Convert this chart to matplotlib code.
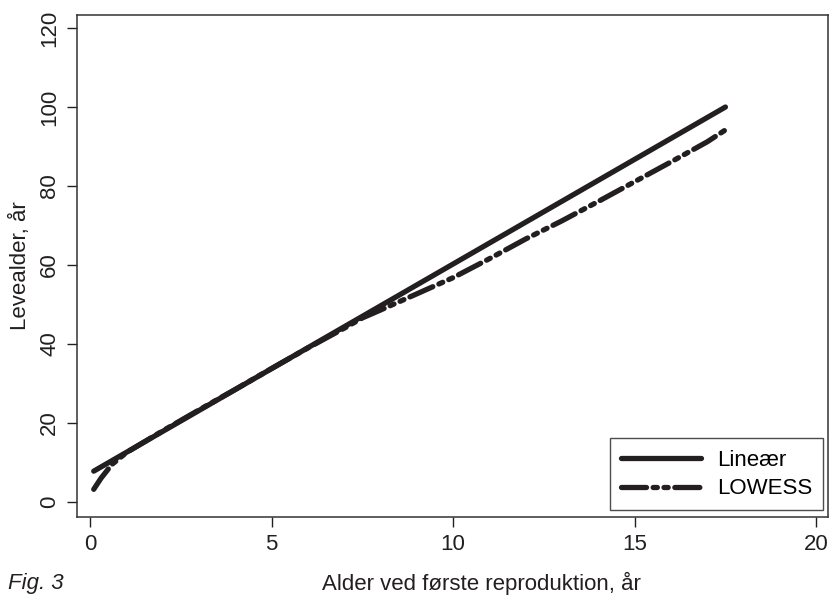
import matplotlib
matplotlib.use("Agg")
import matplotlib.pyplot as plt

plt.rcParams['font.family'] = ['Liberation Sans', 'DejaVu Sans']
plt.rcParams['lines.scale_dashes'] = False

# linear fit endpoints
lin_x = [0.1, 17.5]
lin_y = [7.8, 100.0]

# LOWESS curve
lowess_x = [0.1, 0.3, 0.6, 1.0, 2.0, 3.0, 4.0, 5.0, 6.0, 7.0, 7.5, 8.0, 9.0,
            10.0, 11.0, 12.0, 13.0, 14.0, 15.0, 16.0, 17.0, 17.5]
lowess_y = [3.2, 6.0, 9.5, 12.5, 18.0, 23.3, 28.5, 33.8, 39.0, 44.0, 46.6, 48.6,
            52.7, 56.8, 61.6, 66.6, 71.2, 76.1, 81.1, 86.1, 91.2, 94.2]

xticks = [0, 5, 10, 15, 20]
yticks = [0, 20, 40, 60, 80, 100, 120]

txt = '#231f20'
fs = 16

fig = plt.figure(figsize=(8.30, 5.98), dpi=100)
ax = fig.add_axes([0.0928, 0.1355, 0.905, 0.8394])

ax.plot(lin_x, lin_y, color=txt, lw=3.8, solid_capstyle='round',
        label='Lineær')
ax.plot(lowess_x, lowess_y, color=txt, lw=3.8, dash_capstyle='round',
        dashes=(18, 4.8, 3, 4.8, 3, 4.8), label='LOWESS')

ax.set_xlim(-0.36, 20.33)
ax.set_ylim(-3.8, 123.3)
ax.set_xticks(xticks)
ax.set_yticks(yticks)
ax.tick_params(direction='out', length=7, width=1, labelsize=fs, pad=5,
               color=txt, labelcolor=txt)
for lab in ax.get_yticklabels():
    lab.set_rotation(90)
    lab.set_va('center')
for sp in ax.spines.values():
    sp.set_linewidth(1.1)
    sp.set_color('#333333')

ax.set_ylabel('Levealder, år', fontsize=fs, color=txt, labelpad=6)

fig.text(481 / 830, 1 - 583 / 598, 'Alder ved første reproduktion, år',
         ha='center', va='center', fontsize=fs, color=txt)
fig.text(8 / 830, 1 - 583 / 598, 'Fig. 3', ha='left', va='center',
         fontsize=fs, style='italic', color=txt)

leg = ax.legend(loc='lower right', bbox_to_anchor=(0.9936, 0.013),
                fontsize=fs, frameon=True, fancybox=False,
                handlelength=3.6, borderpad=0.5, labelspacing=0.35,
                handletextpad=0.7, borderaxespad=0)
leg.get_frame().set_edgecolor(txt)
leg.get_frame().set_linewidth(1.0)

fig.savefig('out.png', dpi=100)
